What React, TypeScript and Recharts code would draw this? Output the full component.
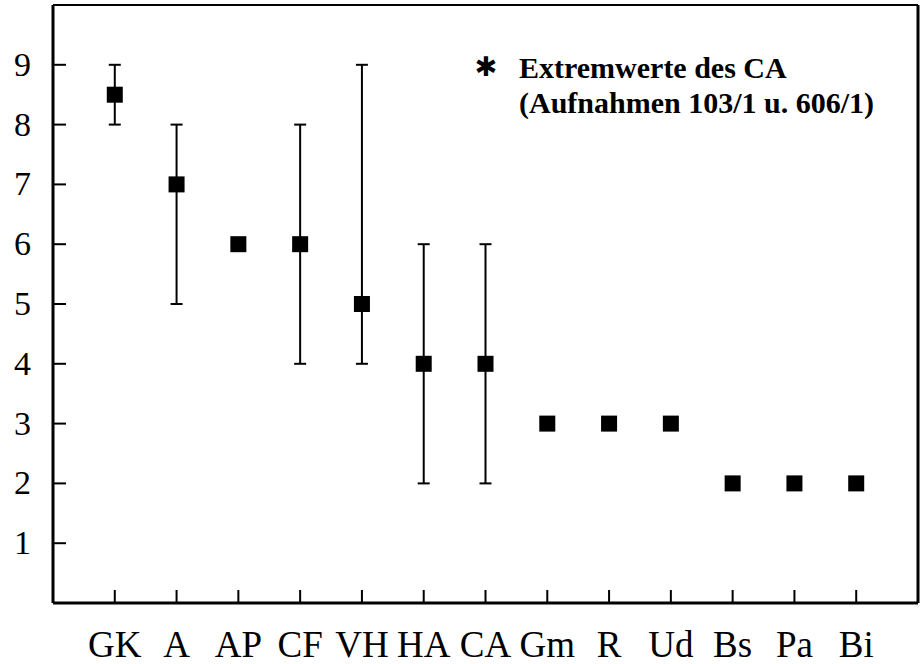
import { ComposedChart, Scatter, ErrorBar, XAxis, YAxis, ReferenceLine } from "recharts"

// Vegetation units, ordered along the x axis
const CATEGORIES = ["GK", "A", "AP", "CF", "VH", "HA", "CA", "Gm", "R", "Ud", "Bs", "Pa", "Bi"]
// central value (square) and the range shown by the whiskers
const CENTER = [8.5, 7, 6, 6, 5, 4, 4, 3, 3, 3, 2, 2, 2]
const LOW = [8, 5, 6, 4, 4, 2, 2, 3, 3, 3, 2, 2, 2]
const HIGH = [9, 8, 6, 8, 9, 6, 6, 3, 3, 3, 2, 2, 2]
const Y_TICKS = [1, 2, 3, 4, 5, 6, 7, 8, 9]
const X_TICKS = CATEGORIES.map((_, i) => i + 1)
const NOTE = ["Extremwerte des CA", "(Aufnahmen 103/1 u. 606/1)"]

const data = CATEGORIES.map((name, i) => ({
  pos: i + 1,
  name,
  value: CENTER[i],
  err: [CENTER[i] - LOW[i], HIGH[i] - CENTER[i]],
}))

const FONT = "'Liberation Serif', 'Times New Roman', serif"
const TICK_LEN = 13

function Square(props: any) {
  const { cx, cy } = props
  if (cx == null || cy == null) return null
  return <rect x={cx - 8} y={cy - 8} width={16} height={16} fill="#000" />
}

// ticks point into the plot, so draw the little line ourselves
function XTick(props: any) {
  const { x, y, payload } = props
  return (
    <g>
      <line x1={x} x2={x} y1={y} y2={y - TICK_LEN} stroke="#000" strokeWidth={2} />
      <text x={x} y={y + 54} textAnchor="middle" fontSize={37} fontFamily={FONT} fill="#000">
        {CATEGORIES[payload.value - 1]}
      </text>
    </g>
  )
}

function YTick(props: any) {
  const { x, y, payload } = props
  return (
    <g>
      <line x1={x} x2={x + TICK_LEN} y1={y} y2={y} stroke="#000" strokeWidth={2} />
      <text x={x - 22} y={y + 11} textAnchor="end" fontSize={34} fontFamily={FONT} fill="#000">
        {payload.value}
      </text>
    </g>
  )
}

export default function App() {
  return (
    <div style={{ position: "absolute", left: 0, top: 0, width: 923, height: 664, background: "#fff" }}>
      <ComposedChart width={923} height={664} data={data} margin={{ top: 5, right: 5, bottom: 0, left: 0 }}>
        <XAxis
          dataKey="pos"
          type="number"
          domain={[0, 14]}
          ticks={X_TICKS}
          interval={0}
          height={61}
          axisLine={{ stroke: "#000", strokeWidth: 3 }}
          tickLine={false}
          tickSize={0}
          tickMargin={0}
          tick={<XTick />}
        />
        <YAxis
          type="number"
          domain={[0, 10]}
          ticks={Y_TICKS}
          interval={0}
          width={53}
          axisLine={{ stroke: "#000", strokeWidth: 3 }}
          tickLine={false}
          tickSize={0}
          tickMargin={0}
          tick={<YTick />}
        />
        <ReferenceLine y={10} stroke="#000" strokeWidth={2} />
        <ReferenceLine x={14} stroke="#000" strokeWidth={3} />
        <Scatter dataKey="value" shape={Square} isAnimationActive={false}>
          <ErrorBar dataKey="err" direction="y" width={6} stroke="#000" strokeWidth={2} />
        </Scatter>
      </ComposedChart>
      <svg width={923} height={664} style={{ position: "absolute", left: 0, top: 0, pointerEvents: "none" }}>
        <text x={486} y={76} textAnchor="middle" fontSize={27} fontFamily="'DejaVu Sans', sans-serif" fill="#000">
          ✱
        </text>
        <text x={519} y={78} fontSize={30} fontWeight="bold" fontFamily={FONT} fill="#000">
          {NOTE[0]}
        </text>
        <text x={519} y={113} fontSize={30} fontWeight="bold" fontFamily={FONT} fill="#000">
          {NOTE[1]}
        </text>
      </svg>
    </div>
  )
}
